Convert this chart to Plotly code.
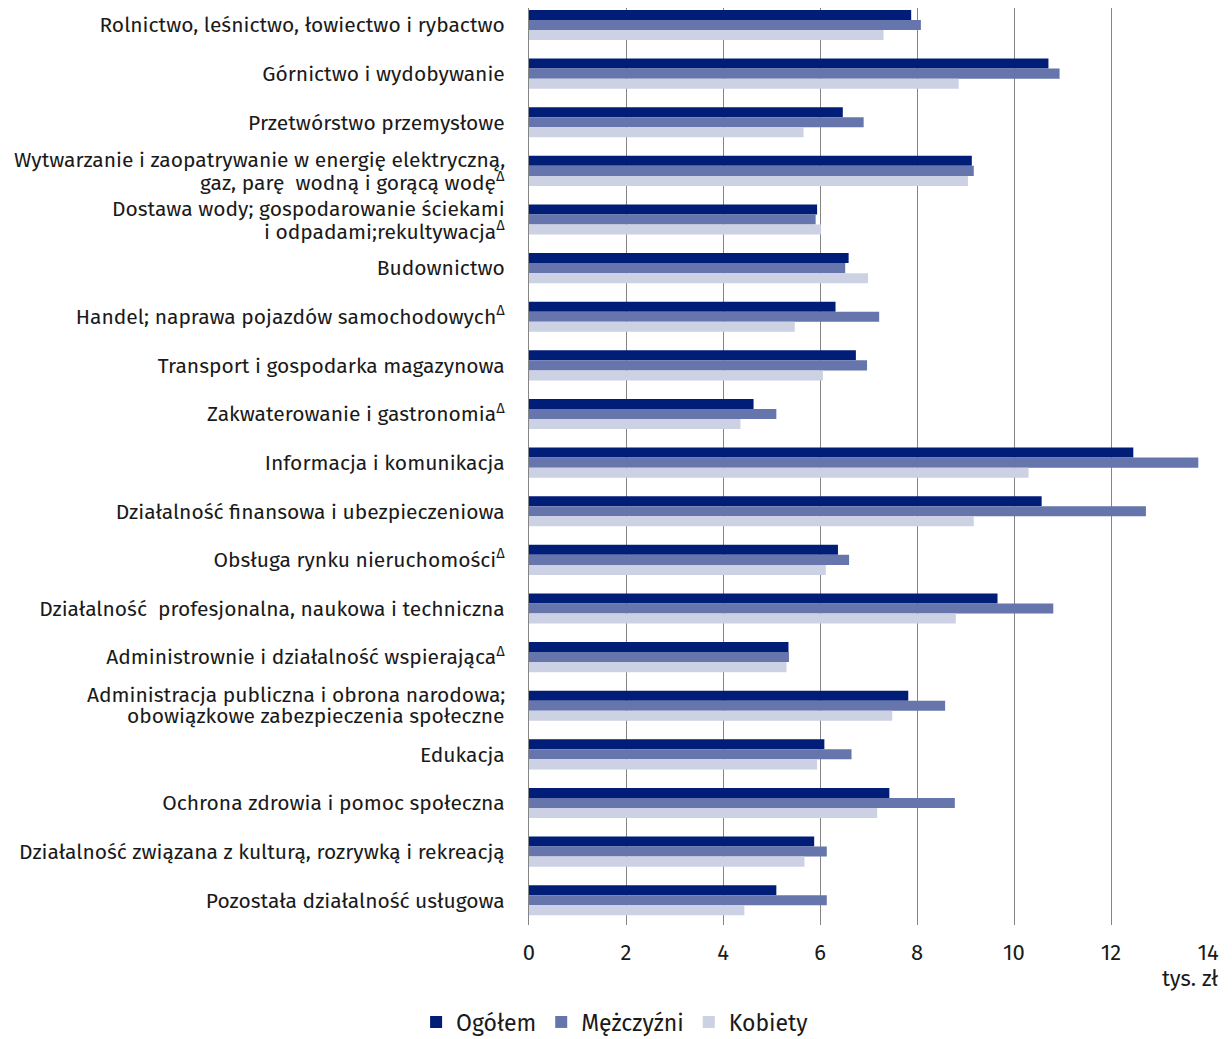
import plotly.graph_objects as go

categories = [
    "Rolnictwo, leśnictwo, łowiectwo i rybactwo",
    "Górnictwo i wydobywanie",
    "Przetwórstwo przemysłowe",
    "Wytwarzanie i zaopatrywanie w energię elektryczną,<br>gaz, parę  wodną i gorącą wodę<sup>Δ</sup>",
    "Dostawa wody; gospodarowanie ściekami<br>i odpadami;rekultywacja<sup>Δ</sup>",
    "Budownictwo",
    "Handel; naprawa pojazdów samochodowych<sup>Δ</sup>",
    "Transport i gospodarka magazynowa",
    "Zakwaterowanie i gastronomia<sup>Δ</sup>",
    "Informacja i komunikacja",
    "Działalność finansowa i ubezpieczeniowa",
    "Obsługa rynku nieruchomości<sup>Δ</sup>",
    "Działalność  profesjonalna, naukowa i techniczna",
    "Administrownie i działalność wspierająca<sup>Δ</sup>",
    "Administracja publiczna i obrona narodowa;<br>obowiązkowe zabezpieczenia społeczne",
    "Edukacja",
    "Ochrona zdrowia i pomoc społeczna",
    "Działalność związana z kulturą, rozrywką i rekreacją",
    "Pozostała działalność usługowa",
]

ogolem = [7.88, 10.71, 6.47, 9.13, 5.94, 6.59, 6.32, 6.74, 4.63, 12.46,
          10.57, 6.37, 9.66, 5.35, 7.82, 6.09, 7.43, 5.88, 5.10]
mezczyzni = [8.08, 10.94, 6.90, 9.17, 5.91, 6.52, 7.22, 6.97, 5.10, 13.80,
             12.72, 6.60, 10.81, 5.36, 8.58, 6.65, 8.78, 6.14, 6.14]
kobiety = [7.31, 8.86, 5.66, 9.05, 6.02, 6.99, 5.48, 6.06, 4.36, 10.30,
           9.17, 6.12, 8.80, 5.31, 7.49, 5.94, 7.18, 5.68, 4.44]

series_names = ["Ogółem", "Mężczyźni", "Kobiety"]
colors = ["#001D77", "#6675AB", "#CCD1E4"]
x_ticks = [0, 2, 4, 6, 8, 10, 12, 14]

FONT = "Fira Sans, Noto Sans, sans-serif"
TEXT_COLOR = "#1a1a1a"

fig = go.Figure()
for name, vals, col in zip(series_names, [ogolem, mezczyzni, kobiety], colors):
    fig.add_trace(go.Bar(
        name=name, y=categories, x=vals, orientation="h",
        marker=dict(color=col, line=dict(width=0)),
    ))

# single-line labels as tick labels; two-line labels as tight annotations
tick_text = [("" if "<br>" in c else c) for c in categories]
annotations = []
for c in categories:
    if "<br>" in c:
        lines = c.split("<br>")
        for i, line in enumerate(lines):
            annotations.append(dict(
                text=line, xref="paper", yref="y", x=0, y=c,
                xanchor="right", yanchor="middle", xshift=-23,
                yshift=10.5 - 21 * i, showarrow=False, borderpad=0,
                font=dict(size=21, color=TEXT_COLOR, family=FONT),
            ))

annotations.append(dict(
    text="tys. zł", xref="paper", yref="paper",
    x=1.0177, y=-0.0578, xanchor="right", yanchor="middle",
    showarrow=False, font=dict(size=22),
))

fig.update_layout(
    width=1224, height=1031,
    barmode="group", bargap=0.38, bargroupgap=0,
    plot_bgcolor="white", paper_bgcolor="white",
    margin=dict(l=521, r=24, t=0, b=114, autoexpand=False),
    font=dict(family=FONT, size=21, color=TEXT_COLOR),
    showlegend=True,
    legend=dict(
        orientation="h", xref="container", yref="container",
        x=0.496, xanchor="center", y=0.0165, yanchor="middle",
        font=dict(size=23), itemwidth=30, traceorder="normal",
    ),
    xaxis=dict(
        range=[0, 14], tickvals=x_ticks, ticktext=[str(v) for v in x_ticks],
        showgrid=True, gridcolor="#858585", gridwidth=1,
        zeroline=False, showline=False, ticks="",
        tickfont=dict(size=22), ticklabelstandoff=12,
    ),
    yaxis=dict(
        range=[18.51, -0.35], showline=True, linecolor="#858585", linewidth=1,
        tickmode="array", tickvals=categories, ticktext=tick_text,
        ticks="", ticklabelstandoff=19, automargin=False,
        tickfont=dict(size=21),
    ),
    annotations=annotations,
)

fig.write_html("out.html")
